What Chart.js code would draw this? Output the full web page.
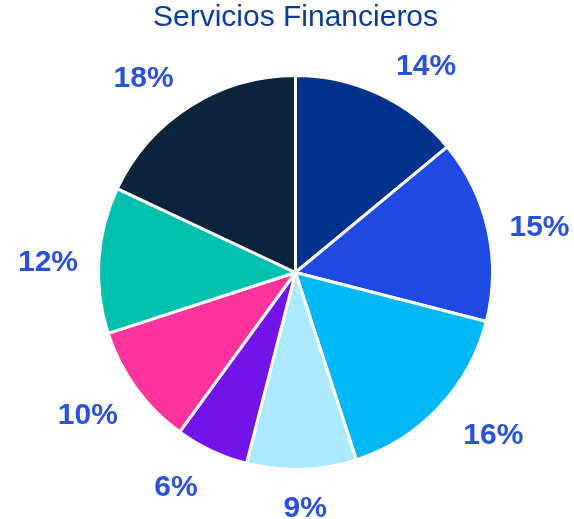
<!DOCTYPE html>
<html>
<head>
<meta charset="utf-8">
<script src="https://cdn.jsdelivr.net/npm/chart.js@4"></script>
<style>
  html, body { margin: 0; padding: 0; background: #fff; }
  #wrap { width: 574px; height: 519px; }
</style>
</head>
<body>
<div id="wrap"><canvas id="pie-chart" width="574" height="519"></canvas></div>
<script>
const sliceLabels = ["A", "B", "C", "D", "E", "F", "G", "H"];
const sliceValues = [14, 15, 16, 9, 6, 10, 12, 18];
const sliceColors = ["#00338D", "#1E49E2", "#00B8F5", "#ACEAFF", "#7213EA", "#FD349C", "#00C0AE", "#0C233C"];

// small per-label shifts (px) so the outside labels sit like in the original
const labelNudge = [[25, 19], [2, 9], [17, -7], [2, -12], [-14, -9], [-7, -3], [0, 6], [-19, 16]];

// Percent labels outside each slice
const outsideLabels = {
  id: 'outsideLabels',
  afterDatasetsDraw(chart) {
    const ctx = chart.ctx;
    const meta = chart.getDatasetMeta(0);
    ctx.save();
    ctx.font = 'bold 30px "Liberation Sans", Arial, sans-serif';
    ctx.fillStyle = '#2A50E0';
    ctx.textAlign = 'center';
    ctx.textBaseline = 'middle';
    meta.data.forEach((arc, i) => {
      const mid = (arc.startAngle + arc.endAngle) / 2;
      const r = arc.outerRadius + 51;
      const x = arc.x + Math.cos(mid) * r + labelNudge[i][0];
      const y = arc.y + Math.sin(mid) * r + labelNudge[i][1];
      ctx.fillText(sliceValues[i] + '%', x, y);
    });
    ctx.restore();
  }
};

new Chart(document.getElementById('pie-chart'), {
  type: 'pie',
  data: {
    labels: sliceLabels,
    datasets: [{
      data: sliceValues,
      backgroundColor: sliceColors,
      borderColor: '#ffffff',
      borderWidth: 3
    }]
  },
  options: {
    responsive: false,
    animation: false,
    layout: {
      padding: { left: 97, right: 80, top: 0, bottom: 48 }
    },
    plugins: {
      legend: { display: false },
      tooltip: { enabled: false },
      title: {
        display: true,
        text: 'Servicios Financieros',
        color: '#0B3A99',
        font: { family: '"Liberation Sans", Arial, sans-serif', size: 30, weight: 'normal' },
        padding: { top: 0, bottom: 38 }
      }
    }
  },
  plugins: [outsideLabels]
});
</script>
</body>
</html>
